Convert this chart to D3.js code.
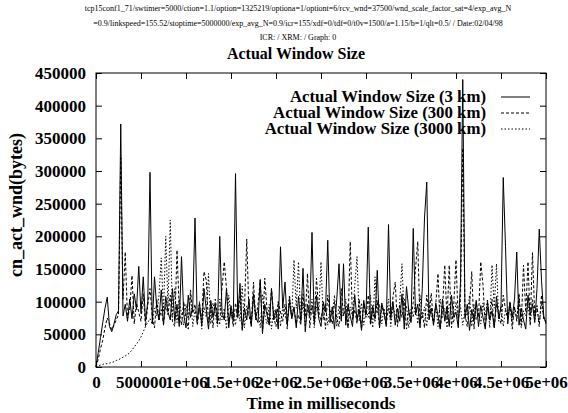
<!DOCTYPE html>
<html>
<head>
<meta charset="utf-8">
<script src="https://cdn.jsdelivr.net/npm/d3@7"></script>
<style>
  body { margin: 0; background: #fff; }
  text { font-family: "Liberation Serif", "Times New Roman", serif; }
</style>
</head>
<body>
<svg id="chart"></svg>
<script>

// sample times, in thousands of milliseconds
var timeK = [
  0, 25, 50, 75, 100, 125, 150, 175, 200, 225,
  250, 275, 300, 325, 350, 375, 400, 425, 450, 475,
  500, 525, 550, 575, 600, 625, 650, 675, 700, 725,
  750, 775, 800, 825, 850, 875, 900, 925, 950, 975,
  1000, 1025, 1050, 1075, 1100, 1125, 1150, 1175, 1200, 1225,
  1250, 1275, 1300, 1325, 1350, 1375, 1400, 1425, 1450, 1475,
  1500, 1525, 1550, 1575, 1600, 1625, 1650, 1675, 1700, 1725,
  1750, 1775, 1800, 1825, 1850, 1875, 1900, 1925, 1950, 1975,
  2000, 2025, 2050, 2075, 2100, 2125, 2150, 2175, 2200, 2225,
  2250, 2275, 2300, 2325, 2350, 2375, 2400, 2425, 2450, 2475,
  2500, 2525, 2550, 2575, 2600, 2625, 2650, 2675, 2700, 2725,
  2750, 2775, 2800, 2825, 2850, 2875, 2900, 2925, 2950, 2975,
  3000, 3025, 3050, 3075, 3100, 3125, 3150, 3175, 3200, 3225,
  3250, 3275, 3300, 3325, 3350, 3375, 3400, 3425, 3450, 3475,
  3500, 3525, 3550, 3575, 3600, 3625, 3650, 3675, 3700, 3725,
  3750, 3775, 3800, 3825, 3850, 3875, 3900, 3925, 3950, 3975,
  4000, 4025, 4050, 4075, 4100, 4125, 4150, 4175, 4200, 4225,
  4250, 4275, 4300, 4325, 4350, 4375, 4400, 4425, 4450, 4475,
  4500, 4525, 4550, 4575, 4600, 4625, 4650, 4675, 4700, 4725,
  4750, 4775, 4800, 4825, 4850, 4875, 4900, 4925, 4950, 4975,
  5000
];

// window sizes, in thousands of bytes
var wnd3km = [
  0, 22, 45, 68, 90, 107, 62, 54, 66, 80,
  86, 372, 78, 96, 70, 104, 74, 112, 88, 154,
  82, 138, 70, 100, 298, 66, 138, 90, 72, 118,
  64, 108, 84, 72, 120, 70, 96, 62, 169, 80,
  60, 110, 76, 92, 228, 70, 98, 64, 120, 88,
  58, 102, 76, 96, 66, 200, 84, 72, 120, 60,
  94, 70, 296, 78, 128, 56, 90, 72, 104, 62,
  112, 76, 68, 134, 52, 96, 80, 64, 120, 72,
  88, 58, 184, 90, 130, 66, 100, 74, 92, 60,
  108, 70, 151, 54, 96, 80, 206, 66, 110, 74,
  62, 100, 84, 194, 68, 92, 58, 104, 158, 70,
  158, 64, 96, 78, 62, 110, 72, 88, 56, 102,
  80, 214, 66, 94, 74, 148, 60, 98, 84, 62,
  218, 76, 100, 64, 90, 70, 112, 58, 123, 86,
  68, 212, 80, 96, 60, 120, 228, 283, 72, 90,
  64, 98, 78, 58, 104, 70, 92, 62, 110, 76,
  84, 60, 130, 440, 74, 96, 56, 88, 70, 102,
  62, 94, 76, 58, 100, 72, 86, 60, 108, 74,
  92, 290, 184, 66, 98, 76, 104, 176, 64, 90,
  72, 58, 110, 80, 96, 68, 120, 211, 133, 78,
  66
];

var wnd300km = [
  0, 12, 28, 41, 60, 75, 66, 57, 64, 72,
  80, 320, 104, 176, 74, 90, 140, 66, 98, 84,
  70, 112, 62, 94, 120, 78, 60, 104, 72, 88,
  66, 96, 80, 110, 70, 62, 179, 86, 64, 100,
  76, 58, 118, 82, 96, 64, 88, 72, 146, 133,
  68, 92, 60, 104, 78, 66, 120, 161, 120, 70,
  86, 62, 98, 74, 110, 58, 90, 196, 80, 64,
  130, 72, 96, 133, 50, 136, 88, 66, 120, 76,
  62, 100, 84, 70, 96, 58, 108, 74, 90, 66,
  80, 64, 112, 76, 143, 60, 94, 72, 136, 84,
  70, 96, 58, 110, 80, 66, 100, 74, 62, 120,
  78, 92, 60, 192, 72, 88, 66, 104, 58, 96,
  76, 110, 64, 88, 70, 102, 60, 94, 80, 66,
  90, 72, 108, 130, 62, 96, 76, 104, 58, 88,
  70, 100, 150, 192, 66, 84, 60, 110, 78, 113,
  64, 96, 143, 58, 88, 156, 72, 156, 60, 96,
  164, 70, 102, 335, 80, 62, 94, 146, 58, 100,
  76, 161, 126, 62, 90, 72, 104, 60, 96, 80,
  66, 110, 88, 74, 100, 58, 92, 70, 112, 64,
  156, 84, 161, 66, 175, 78, 94, 62, 110, 72,
  70
];

var wnd3000km = [
  0, 2, 3, 4, 5, 5, 6, 7, 8, 10,
  11, 13, 15, 17, 19, 22, 26, 31, 35, 40,
  46, 54, 62, 68, 74, 66, 90, 78, 110, 167,
  84, 200, 92, 225, 76, 120, 68, 104, 80, 64,
  96, 74, 110, 62, 88, 70, 100, 58, 92, 76,
  143, 66, 98, 80, 62, 104, 72, 90, 58, 110,
  76, 88, 64, 100, 70, 124, 60, 94, 78, 66,
  104, 72, 90, 60, 112, 80, 66, 96, 58, 88,
  74, 100, 62, 92, 80, 68, 110, 76, 164, 90,
  161, 70, 98, 62, 88, 76, 104, 60, 92, 80,
  161, 72, 96, 64, 88, 78, 110, 62, 94, 74,
  86, 104, 60, 92, 78, 124, 169, 70, 98, 64,
  88, 76, 110, 60, 138, 82, 96, 66, 90, 74,
  104, 62, 92, 80, 68, 100, 158, 72, 94, 60,
  88, 76, 98, 66, 110, 74, 92, 62, 100, 80,
  70, 94, 62, 104, 76, 90, 60, 98, 82, 68,
  100, 74, 92, 64, 88, 78, 110, 62, 96, 72,
  84, 66, 98, 76, 104, 60, 156, 90, 158, 70,
  94, 62, 88, 76, 100, 66, 92, 74, 110, 60,
  86, 78, 96, 64, 104, 72, 90, 66, 98, 76,
  70
];

var seriesNames = ["Actual Window Size (3 km)", "Actual Window Size (300 km)", "Actual Window Size (3000 km)"];
var seriesDash = ["none", "3,2", "1.5,2"];

var xTicks = [0, 500000, 1000000, 1500000, 2000000, 2500000, 3000000, 3500000, 4000000, 4500000, 5000000];
var xTickLabels = ["0", "500000", "1e+06", "1.5e+06", "2e+06", "2.5e+06", "3e+06", "3.5e+06", "4e+06", "4.5e+06", "5e+06"];
var yTicks = [0, 50000, 100000, 150000, 200000, 250000, 300000, 350000, 400000, 450000];
var yTickLabels = ["0", "50000", "100000", "150000", "200000", "250000", "300000", "350000", "400000", "450000"];

var header = [
  "tcp15conf1_71/swtimer=5000/ction=1.1/option=1325219/optiona=1/optiont=6/rcv_wnd=37500/wnd_scale_factor_sat=4/exp_avg_N",
  "=0.9/linkspeed=155.52/stoptime=5000000/exp_avg_N=0.9/icr=155/xdf=0/tdf=0/t0v=1500/a=1.15/b=1/qlt=0.5/ / Date:02/04/98",
  "ICR: / XRM: / Graph: 0"
];

var width = 568;
var height = 413;
var plotL = 96, plotR = 546, plotT = 73, plotB = 367;
var serif = "\"Liberation Serif\", \"Times New Roman\", serif";

var svg = d3.select("#chart").attr("width", width).attr("height", height);

var x = d3.scaleLinear().domain([0, 5000000]).range([plotL, plotR]);
var y = d3.scaleLinear().domain([0, 450000]).range([plotB, plotT]);

// header lines
header.forEach(function (line, i) {
  svg.append("text")
    .attr("x", 298)
    .attr("y", 11 + i * 14.5)
    .attr("text-anchor", "middle")
    .attr("font-size", "8px")
    .attr("fill", "#000")
    .text(line);
});

// title
svg.append("text")
  .attr("x", 296)
  .attr("y", 59)
  .attr("text-anchor", "middle")
  .attr("font-size", "16px")
  .attr("font-weight", "bold")
  .text("Actual Window Size");

// axes, ticks pointing inward
var fmtX = function (d, i) { return xTickLabels[i]; };
var fmtY = function (d, i) { return yTickLabels[i]; };

var gx = svg.append("g").attr("transform", "translate(0," + plotB + ")")
  .call(d3.axisBottom(x).tickValues(xTicks).tickFormat(fmtX).tickSizeInner(-6).tickSizeOuter(0).tickPadding(9));
var gxt = svg.append("g").attr("transform", "translate(0," + plotT + ")")
  .call(d3.axisTop(x).tickValues(xTicks).tickFormat("").tickSizeInner(-6).tickSizeOuter(0));
var gy = svg.append("g").attr("transform", "translate(" + plotL + ",0)")
  .call(d3.axisLeft(y).tickValues(yTicks).tickFormat(fmtY).tickSizeInner(-6).tickSizeOuter(0).tickPadding(10));
var gyr = svg.append("g").attr("transform", "translate(" + plotR + ",0)")
  .call(d3.axisRight(y).tickValues(yTicks).tickFormat("").tickSizeInner(-6).tickSizeOuter(0));

[gx, gxt, gy, gyr].forEach(function (g) {
  g.select(".domain").remove();
  g.selectAll("line").attr("stroke", "#000");
  g.selectAll("text")
    .attr("font-family", serif)
    .attr("font-size", "17px")
    .attr("font-weight", "bold")
    .attr("fill", "#000");
});

// axis titles
svg.append("text")
  .attr("x", 321)
  .attr("y", 409)
  .attr("text-anchor", "middle")
  .attr("font-size", "17px")
  .attr("font-weight", "bold")
  .text("Time in milliseconds");

svg.append("text")
  .attr("transform", "translate(22,205) rotate(-90)")
  .attr("text-anchor", "middle")
  .attr("font-size", "18px")
  .attr("font-weight", "bold")
  .text("cn_act_wnd(bytes)");

// key
seriesNames.forEach(function (name, i) {
  var ky = 97 + i * 16;
  svg.append("text")
    .attr("x", 486)
    .attr("y", ky + 5)
    .attr("text-anchor", "end")
    .attr("font-size", "16.8px")
    .attr("font-weight", "bold")
    .text(name);
  svg.append("line")
    .attr("x1", 501).attr("x2", 530)
    .attr("y1", ky).attr("y2", ky)
    .attr("stroke", "#000")
    .attr("stroke-width", 1)
    .attr("stroke-dasharray", seriesDash[i]);
});

// the three curves
var allSeries = [wnd3km, wnd300km, wnd3000km];
var line = d3.line()
  .x(function (d, i) { return x(timeK[i] * 1000); })
  .y(function (d) { return y(d * 1000); });

allSeries.forEach(function (vals, i) {
  svg.append("path")
    .attr("d", line(vals))
    .attr("fill", "none")
    .attr("stroke", "#000")
    .attr("stroke-width", 1)
    .attr("stroke-dasharray", seriesDash[i]);
});

// border
svg.append("rect")
  .attr("x", plotL).attr("y", plotT)
  .attr("width", plotR - plotL).attr("height", plotB - plotT)
  .attr("fill", "none")
  .attr("stroke", "#000")
  .attr("stroke-width", 1);

</script>
</body>
</html>
